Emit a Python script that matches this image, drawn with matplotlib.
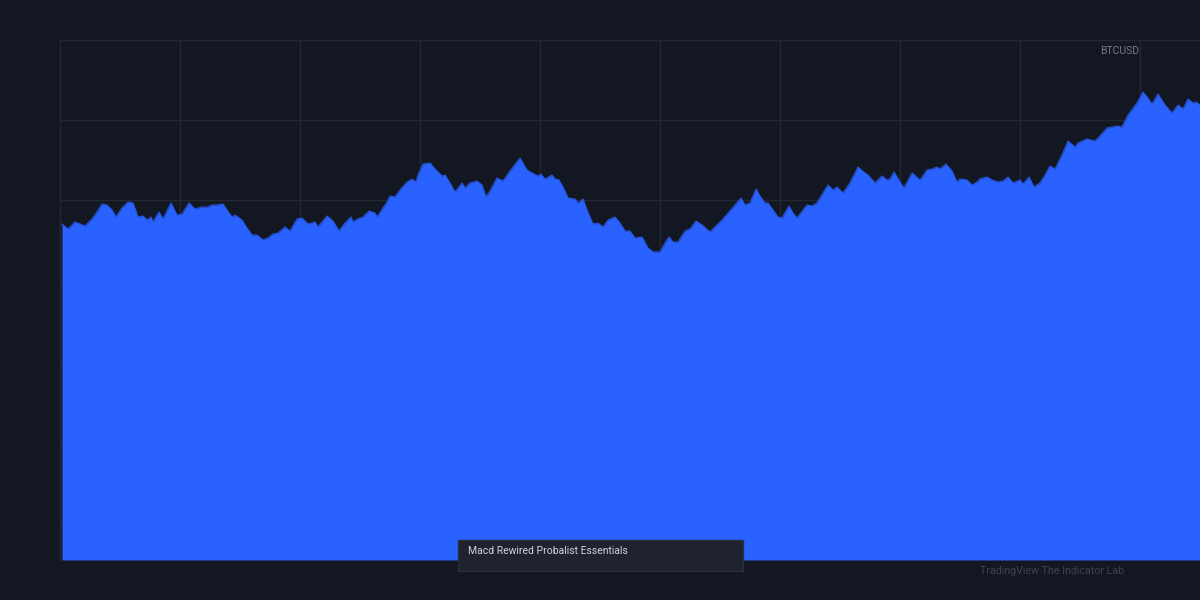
import matplotlib
matplotlib.use("Agg")
import matplotlib.pyplot as plt
from matplotlib.patches import Rectangle
import numpy as np

# BTCUSD close (bar index, price)
bars = [2, 8, 15, 20, 25, 32, 37, 42, 47, 52, 56, 62, 68, 73, 78, 83, 87, 91, 93, 99,
        103, 111, 117, 122, 129, 135, 142, 148, 152, 157, 163, 167, 172, 175, 182, 187, 192, 197, 203, 208,
        213, 218, 225, 230, 237, 242, 248, 255, 258, 267, 273, 279, 285, 291, 293, 298, 303, 309, 315, 317,
        327, 330, 335, 340, 347, 352, 356, 358, 363, 370, 375, 382, 385, 390, 395, 402, 405, 410, 417, 422,
        426, 430, 437, 443, 450, 460, 467, 472, 478, 481, 485, 492, 495, 499, 503, 508, 515, 518, 523, 527,
        533, 538, 543, 548, 555, 560, 565, 570, 575, 582, 588, 593, 600, 605, 609, 613, 618, 625, 630, 636,
        642, 650, 655, 662, 668, 675, 681, 685, 690, 696, 700, 705, 708, 713, 718, 722, 729, 733, 737, 740,
        747, 752, 757, 763, 768, 773, 777, 783, 790, 798, 805, 808, 815, 822, 827, 830, 834, 840, 844, 852,
        860, 867, 872, 877, 880, 886, 892, 897, 900, 907, 912, 917, 920, 927, 932, 938, 943, 948, 953, 960,
        963, 969, 974, 980, 985, 990, 995, 1002, 1008, 1015, 1018, 1027, 1035, 1040, 1047, 1057, 1062, 1068,
        1077, 1083, 1087, 1092, 1098, 1105, 1112, 1118, 1123, 1128, 1133, 1136, 1140]
close = [33600, 33100, 33800, 33600, 33400, 34100, 34800, 35600, 35500, 35000,
         34300, 35200, 35800, 35700, 34300, 34400, 34000, 34300, 33800, 34800,
         34100, 35700, 34500, 34600, 35700, 35100, 35300, 35300, 35500, 35500,
         35600, 35000, 34300, 34500, 34000, 33200, 32500, 32500, 32000, 32200,
         32600, 32700, 33300, 32900, 34100, 34200, 33600, 33800, 33300, 34400,
         33900, 32900, 33700, 34300, 33800, 34100, 34300, 34900, 34700, 34300,
         35800, 36400, 36300, 37000, 37800, 38100, 37800, 38500, 39600, 39700,
         39100, 38400, 38500, 37700, 36800, 37700, 37200, 37700, 37900, 37500,
         36300, 36900, 38200, 37900, 38900, 40200, 39000, 38700, 38400, 38600,
         38100, 38500, 38100, 38000, 37300, 36200, 36100, 35700, 36100, 35000,
         33600, 33700, 33300, 34000, 34300, 33700, 32900, 32900, 32200, 32300,
         31200, 30800, 30800, 31700, 32300, 31800, 31800, 32900, 33100, 33900,
         33500, 32800, 33300, 34000, 34700, 35500, 36200, 35500, 35700, 37100,
         36400, 35700, 35700, 35000, 34300, 34200, 35400, 34700, 34200, 34600,
         35500, 35400, 35700, 36700, 37500, 37000, 37300, 36700, 37700, 39300,
         38700, 38500, 37700, 38400, 38000, 38100, 38800, 37800, 37200, 38700,
         38000, 39000, 39100, 39300, 39100, 39600, 38900, 37800, 38100, 38000,
         37500, 37800, 38100, 38300, 38000, 37800, 37900, 38300, 37700, 38000,
         37600, 38300, 37300, 37700, 38500, 39400, 39100, 40500, 41900, 41300,
         41700, 42100, 41900, 42400, 43200, 43400, 43300, 44500, 45700, 46800,
         46300, 45600, 46600, 45500, 44700, 45500, 45100, 46100, 45700, 45800, 45500]

symbol = "BTCUSD"
indicator = "Macd Rewired Probalist Essentials"
credit = "TradingView·The Indicator Lab"

bg = "#131722"
grid = "#232733"
blue = "#2962FF"

plt.rcParams['font.family'] = ['Roboto', 'DejaVu Sans']

fig = plt.figure(figsize=(12, 6), dpi=100, facecolor=bg)
ax = fig.add_axes([60/1200, 40/600, 1140/1200, 520/600])
ax.set_facecolor(bg)

ax.fill_between(bars, close, 0, color=blue, lw=0, zorder=2)
ax.plot(bars, close, color="#2557e6", lw=0.8, zorder=3)

ax.set_xlim(0, 1140)
ax.set_ylim(0, 52000)
ax.set_xticks(np.arange(0, 1141, 120))
ax.set_yticks(np.arange(4000, 52001, 8000))
ax.grid(True, color=grid, lw=1, zorder=0)
ax.tick_params(length=0, labelbottom=False, labelleft=False)
for s in ["right", "bottom"]:
    ax.spines[s].set_visible(False)
for s in ["left", "top"]:
    ax.spines[s].set_color(grid)
    ax.spines[s].set_linewidth(1)

fig.text(1139/1200, 1 - 51/600, symbol, color="#787b86",
         fontsize=7.5, ha="right", va="center")

box = Rectangle((458/1200, 1 - 571/600), 285/1200, 31/600, transform=fig.transFigure,
                facecolor="#1f2330", edgecolor="#2a2e39", lw=1, zorder=10)
fig.add_artist(box)
fig.text(468/1200, 1 - 551/600, indicator, color="#d1d4dc", fontsize=7.5,
         ha="left", va="center", zorder=11)

fig.text(980/1200, 1 - 571/600, credit, color="#3f434e", fontsize=7.7,
         ha="left", va="center")

fig.savefig("out.png", dpi=100, facecolor=bg)
